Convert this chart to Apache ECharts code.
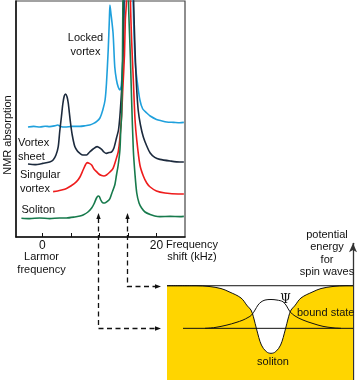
<!DOCTYPE html>
<html>
<head>
<meta charset="utf-8">
<script src="https://cdn.jsdelivr.net/npm/echarts@6/dist/echarts.min.js"></script>
<style>
html,body{margin:0;padding:0;background:#fff;}
#main{width:358px;height:380px;}
</style>
</head>
<body>
<div id="main"></div>
<script>
// ---- Spectra: [frequency shift (kHz), NMR absorption (arb. units, offset per trace)] ----
const lockedVortex = [[-2.5,55],[-1.5,55.3],[-0.4,55],[0.5,55.4],[1.3,55.2],[2.2,55.6],[2.7,56],[3.2,55.3],[4.0,55],[5.2,55.3],[6.6,55.3],[7.5,55.6],[8.3,56],[9.0,56.8],[9.5,57.7],[10.1,59.5],[10.6,63.5],[11.0,68.5],[11.25,77],[11.55,93.5],[11.75,108.5],[11.85,116],[12.0,112.5],[12.4,102],[12.7,85],[13.0,78.5],[13.3,75],[13.6,73.5],[13.85,76],[14.1,88.5],[14.4,118],[14.8,160],[15.2,200],[15.6,150],[16.0,108.5],[16.25,88.5],[16.6,78.5],[17.1,68.5],[17.6,64],[18.3,62],[18.9,60.5],[20.0,58.8],[21.0,58],[21.8,57.5],[23.0,57.3],[24.1,57.1],[24.8,57.3]];
const vortexSheet = [[-2.5,36.5],[-1.3,36.2],[0.1,36.8],[1.3,37.5],[1.9,38.5],[2.4,41],[2.8,45.2],[3.05,52.5],[3.35,60],[3.6,66.5],[3.85,70.5],[4.1,71.5],[4.35,70],[4.55,67],[4.75,62],[4.95,57],[5.25,51],[5.7,45.2],[6.15,43],[6.6,41.8],[7.1,41],[7.75,41],[8.3,42.5],[8.9,44],[9.6,45.2],[10.4,43.8],[10.8,42.5],[11.25,41.8],[11.7,42.2],[12.15,42.6],[12.55,44.5],[13.0,49.5],[13.35,53.5],[13.6,60.5],[13.85,71],[14.0,78.5],[14.2,98.5],[14.3,118],[14.7,160],[15.2,220],[15.7,170],[16.0,118],[16.25,93.5],[16.5,76],[16.8,63.5],[17.2,56],[17.7,50],[18.3,45.5],[18.9,42],[19.7,39.8],[20.6,38.8],[22.4,38],[24.1,37.5],[24.8,37.5]];
const singularVortex = [[1.9,22.7],[2.7,23],[3.4,23.5],[4.25,24.3],[5.0,25.5],[6.0,27.7],[6.6,30],[7.15,33.5],[7.55,36],[7.85,37.2],[8.25,36.8],[8.65,36],[9.05,34],[9.5,32.7],[9.9,31.5],[10.4,30.7],[10.8,30.5],[11.25,31],[11.85,32.5],[12.4,34.3],[13.0,39.5],[13.3,42.5],[13.6,49.5],[13.9,61],[14.1,73.5],[14.4,91],[14.55,108.5],[14.75,118],[15.1,220],[15.45,118],[15.65,98.5],[15.95,78.5],[16.25,58.5],[16.55,48.5],[17.1,36],[17.7,30.5],[18.3,27],[18.9,25],[20.0,23],[21.5,22],[23.8,21.5],[24.8,21.5]];
const soliton = [[-3.65,9.4],[-2.2,9.2],[-0.45,9.5],[1.3,9.2],[3.05,9.5],[4.25,9.5],[5.7,10],[6.6,10.5],[7.15,11],[8.0,12.5],[8.65,14.5],[9.05,16.5],[9.5,19.5],[9.8,20.5],[10.0,20.2],[10.25,18.5],[10.55,17.2],[10.95,17],[11.4,17.8],[11.85,19.2],[12.2,22],[12.7,26],[13.0,31],[13.3,36],[13.6,43.5],[13.75,53.5],[13.9,61],[14.05,88.5],[14.12,118],[14.6,220],[15.1,118],[15.45,88.5],[15.65,68.5],[15.95,43.5],[16.25,31],[16.55,22],[16.95,17],[17.4,14.5],[18.0,12.5],[18.9,11.2],[19.7,10.5],[20.6,10.2],[22.4,10.3],[24.1,10.2],[24.8,10.3]];

const freqTicks = [0, 5, 10, 15, 20];
const freqTickLabels = [0, 20];

// ---- Potential well diagram: [position (arb.), energy (arb.)] ----
const potential = [[-5.2,1],[-3.75,1],[-3.1,0.992],[-2.5,0.97],[-2.1,0.936],[-1.5,0.87],[-1.18,0.785],[-1.0,0.742],[-0.88,0.671],[-0.71,0.53],[-0.48,0.371],[-0.23,0.30],[0,0.283],[0.23,0.30],[0.48,0.371],[0.71,0.53],[0.88,0.671],[1.0,0.742],[1.18,0.785],[1.5,0.87],[2.1,0.936],[2.5,0.97],[3.1,0.992],[3.75,1],[4.1,1]];
const psi = [[-3.3,0.548],[-2.8,0.557],[-2.2,0.583],[-1.75,0.61],[-1.4,0.636],[-1.15,0.663],[-0.97,0.689],[-0.8,0.742],[-0.65,0.795],[-0.5,0.827],[-0.3,0.848],[0,0.854],[0.3,0.848],[0.6,0.83],[0.78,0.785],[0.95,0.724],[1.2,0.679],[1.6,0.636],[2.1,0.599],[2.6,0.569],[3.1,0.554],[3.5,0.548]];
const continuumLevel = [[-5.2,1],[4.1,1]];
const boundLevel = [[-4.4,0.548],[4.1,0.548]];

// dashed arrows: spectral line (kHz) -> energy level in the well
const arrowFreqs = [9.8, 14.8];
const arrowLevels = [0.548, 1.0];
const arrowTip = 12;

const FONT = 'Liberation Sans, Arial, sans-serif';
const chart = echarts.init(document.getElementById('main'));

function spec(data, color) {
  return {
    type: 'line', xAxisIndex: 0, yAxisIndex: 0, data: data,
    showSymbol: false, smooth: 0.25, clip: true,
    lineStyle: { color: color, width: 1.6 }, animation: false
  };
}

const option = {
  animation: false,
  grid: [
    { left: 16, top: 1, width: 169, height: 236, show: true, borderColor: '#444', borderWidth: 1.2, backgroundColor: 'transparent' },
    { left: 167, right: 5, top: 243.3, bottom: 0 }
  ],
  xAxis: [
    {
      gridIndex: 0, type: 'value', min: -4.6, max: 25,
      axisLine: { show: true, onZero: false, lineStyle: { color: '#111', width: 1.5 } },
      axisTick: { show: true, inside: true, length: 4, customValues: freqTicks, lineStyle: { color: '#111', width: 1 } },
      axisLabel: { customValues: freqTickLabels, margin: 3, fontSize: 12, color: '#111', fontFamily: FONT },
      splitLine: { show: false }
    },
    { gridIndex: 1, type: 'value', min: -5.2, max: 4.1, show: false, axisLine: { onZero: false } }
  ],
  yAxis: [
    {
      gridIndex: 0, type: 'value', min: 0, max: 118,
      axisLine: { show: true, onZero: false, lineStyle: { color: '#111', width: 1.5 } },
      axisTick: { show: false }, axisLabel: { show: false }, splitLine: { show: false }
    },
    {
      gridIndex: 1, type: 'value', min: 0, max: 1.45, position: 'right',
      axisLine: { show: true, onZero: false, symbol: ['none', 'arrow'], symbolSize: [6, 9], lineStyle: { color: '#333', width: 1.3 } },
      axisTick: { show: false }, axisLabel: { show: false }, splitLine: { show: false }
    }
  ],
  series: [
    spec(lockedVortex, '#1fa0dc'),
    spec(vortexSheet, '#1c2a3d'),
    spec(singularVortex, '#ee1c1c'),
    spec(soliton, '#177a4c'),
    {
      type: 'line', xAxisIndex: 1, yAxisIndex: 1, data: potential, showSymbol: false, smooth: 0.35,
      lineStyle: { color: '#111', width: 1 },
      areaStyle: { color: '#ffd500', opacity: 1, origin: 'start' }
    },
    {
      type: 'line', xAxisIndex: 1, yAxisIndex: 1, data: continuumLevel, showSymbol: false,
      lineStyle: { color: '#111', width: 1 }
    },
    {
      type: 'line', xAxisIndex: 1, yAxisIndex: 1, data: boundLevel, showSymbol: false,
      lineStyle: { color: '#111', width: 1 }
    },
    {
      type: 'line', xAxisIndex: 1, yAxisIndex: 1, data: psi, showSymbol: false, smooth: 0.35,
      lineStyle: { color: '#111', width: 1 }
    }
  ]
};
chart.setOption(option);

function txt(x, y, text, align, lh, extra) {
  return {
    type: 'text', z: 100, silent: true,
    style: Object.assign({
      x: x, y: y, text: text, fill: '#111', font: '11px ' + FONT,
      textAlign: align, textVerticalAlign: 'top', lineHeight: lh
    }, extra || {})
  };
}

const gfx = [
  txt(85.5, 30.7, 'Locked\nvortex', 'center', 14),
  txt(18, 136, 'Vortex\nsheet', 'left', 14),
  txt(20, 168, 'Singular\nvortex', 'left', 14),
  txt(21.5, 203, 'Soliton', 'left', 14),
  txt(41.5, 250, 'Larmor\nfrequency', 'center', 13.4),
  txt(192, 239, 'Frequency\nshift (kHz)', 'center', 12),
  txt(327, 229, 'potential\nenergy\nfor\nspin waves', 'center', 12.2),
  txt(297, 306.5, 'bound state', 'left', 13),
  txt(273, 355, 'soliton', 'center', 13),
  {
    type: 'text', z: 100, silent: true, x: 8, y: 135, rotation: Math.PI / 2,
    style: { x: 0, y: 0, text: 'NMR absorption', fill: '#111', font: '11px ' + FONT, textAlign: 'center', textVerticalAlign: 'middle' }
  },
  {
    type: 'text', z: 100, silent: true,
    style: { x: 285.5, y: 300, text: 'Ψ', fill: '#111', font: '12px DejaVu Serif, serif', textAlign: 'center', textVerticalAlign: 'middle' }
  }
];

arrowFreqs.forEach(function (f, i) {
  const top = chart.convertToPixel({ xAxisIndex: 0, yAxisIndex: 0 }, [f, arrowTip]);
  const lvl = chart.convertToPixel({ xAxisIndex: 1, yAxisIndex: 1 }, [-5.2, arrowLevels[i]]);
  const x = Math.round(top[0]) + 0.5;
  const y0 = top[1];
  const ly = Math.round(lvl[1]) + 0.5;
  const endX = lvl[0] - 6;
  gfx.push({
    type: 'polyline', z: 90, silent: true,
    shape: { points: [[x, y0 + 5], [x, ly], [endX - 5, ly]] },
    style: { stroke: '#111', lineWidth: 1.3, lineDash: [5, 3.5], fill: null }
  });
  gfx.push({
    type: 'polygon', z: 91, silent: true,
    shape: { points: [[x, y0], [x - 2.2, y0 + 6], [x + 2.2, y0 + 6]] },
    style: { fill: '#111' }
  });
  gfx.push({
    type: 'polygon', z: 91, silent: true,
    shape: { points: [[endX, ly], [endX - 6, ly - 2.3], [endX - 6, ly + 2.3]] },
    style: { fill: '#111' }
  });
});

chart.setOption({ graphic: gfx });
</script>
</body>
</html>
